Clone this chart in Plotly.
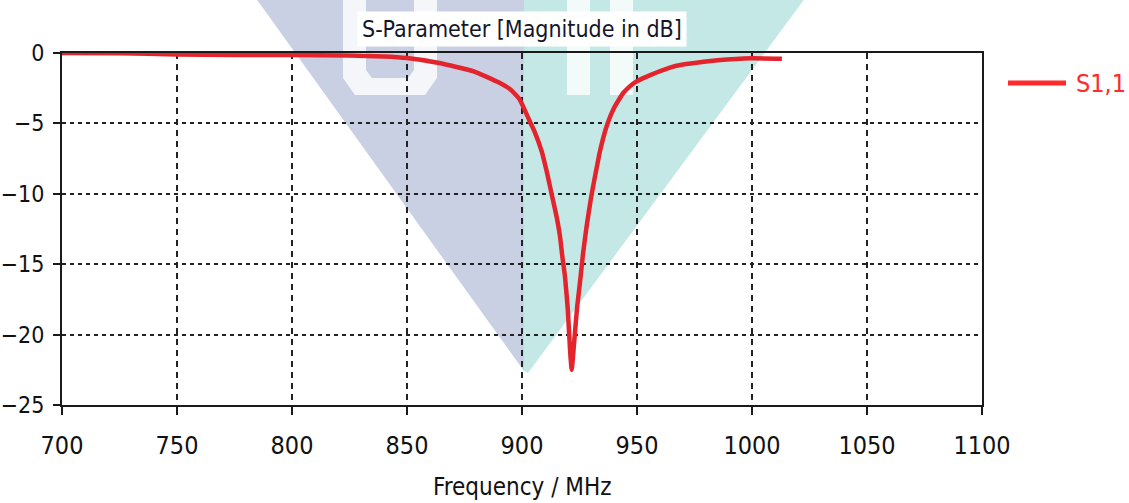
import plotly.graph_objects as go

# S11 reflection coefficient of the antenna (frequency in MHz, magnitude in dB)
freq_mhz = [700, 725, 750, 775, 800, 825, 840, 850, 864, 879, 890, 895, 899,
            903.5, 905.5, 908.6, 911, 913, 915, 916.5, 917.5, 918.7, 919.9,
            920.9, 921.6, 923, 924, 925.2, 926.5, 928.1, 930, 931.7, 934,
            936.8, 940, 944, 947, 950, 956, 964, 970, 979, 985, 993, 1000, 1013]
s11_db = [0.0, -0.02, -0.1, -0.15, -0.15, -0.18, -0.25, -0.36, -0.71, -1.3,
          -2.1, -2.6, -3.3, -4.9, -5.6, -7.0, -8.6, -10.1, -11.6, -13.0,
          -14.4, -15.9, -18.2, -21.1, -22.5, -19.9, -18.0, -16.3, -14.3,
          -12.3, -10.3, -8.8, -6.9, -5.2, -3.9, -2.84, -2.35, -2.0, -1.55,
          -1.05, -0.82, -0.62, -0.52, -0.42, -0.38, -0.4]
series_name = "S1,1"

x_ticks = [700, 750, 800, 850, 900, 950, 1000, 1050, 1100]
y_ticks = [0, -5, -10, -15, -20, -25]

title_text = "S-Parameter [Magnitude in dB]"
x_title = "Frequency / MHz"

FONT = "DejaVu Sans Condensed, DejaVu Sans, sans-serif"
RED = "#ff2a2a"
CURVE = "#e3242d"

# plot-area geometry in pixels
FIG_W, FIG_H = 1129, 503
L, R, T, B = 62, 982, 53, 405
W, H = R - L, B - T


def px(x):
    return (x - L) / W


def py(y):
    return (B - y) / H


def poly(points):
    return "M " + " L ".join(f"{px(x):.5f},{py(y):.5f}" for x, y in points) + " Z"


fig = go.Figure()
fig.add_trace(go.Scatter(
    x=freq_mhz, y=s11_db, mode="lines", name=series_name,
    line=dict(color=CURVE, width=4.5, shape="spline", smoothing=0.4),
    showlegend=False,
))

WHITE = "rgba(255,255,255,0.8)"
shapes = [
    # background emblem: two-tone inverted triangle
    dict(type="path", xref="paper", yref="paper", layer="below",
         path=poly([(255, -3), (524, -3), (524, 371)]),
         fillcolor="#c9d0e4", line=dict(width=0)),
    dict(type="path", xref="paper", yref="paper", layer="below",
         path=poly([(524, -3), (806, -3), (528, 373), (524, 371)]),
         fillcolor="#c4e8e6", line=dict(width=0)),
    # pale lettering inside the emblem
    dict(type="path", xref="paper", yref="paper", layer="below",
         path=poly([(343, -3), (366, -3), (366, 70), (372, 78), (408, 78),
                    (414, 70), (414, -3), (437, -3), (437, 78), (425, 95),
                    (355, 95), (343, 78)]),
         fillcolor=WHITE, line=dict(width=0)),
    dict(type="path", xref="paper", yref="paper", layer="below",
         path=poly([(567, -3), (590, -3), (590, 95), (567, 95)]),
         fillcolor=WHITE, line=dict(width=0)),
    dict(type="path", xref="paper", yref="paper", layer="below",
         path=poly([(610, -3), (633, -3), (633, 95), (610, 95)]),
         fillcolor=WHITE, line=dict(width=0)),
    # legend sample line
    dict(type="line", xref="paper", yref="paper",
         x0=px(1008), x1=px(1066), y0=py(83), y1=py(83),
         line=dict(color=RED, width=5)),
]

annotations = [
    dict(text=title_text, xref="paper", yref="paper", x=0.5, y=py(29),
         xanchor="center", yanchor="middle", showarrow=False,
         bgcolor="white", borderpad=4,
         font=dict(family=FONT, size=23, color="#15152a")),
    dict(text=x_title, xref="paper", yref="paper", x=0.5, y=py(487),
         xanchor="center", yanchor="middle", showarrow=False,
         font=dict(family=FONT, size=24, color="#111111")),
    dict(text=series_name, xref="paper", yref="paper", x=px(1074), y=py(83),
         xanchor="left", yanchor="middle", showarrow=False,
         font=dict(family=FONT, size=25, color=RED)),
]

axis_common = dict(
    showline=True, linecolor="#1a1a1a", linewidth=2, mirror=True,
    ticks="outside", tickcolor="#1a1a1a", tickwidth=2,
    showgrid=True, gridcolor="#222222", gridwidth=1.5,
    zeroline=False,
)

fig.update_xaxes(range=[700, 1100], tickvals=x_ticks, ticklen=8,
                 griddash="6px,5px", ticklabelstandoff=9,
                 tickfont=dict(family=FONT, size=25, color="#111111"),
                 **axis_common)
fig.update_yaxes(range=[-25, 0], tickvals=y_ticks, ticklen=7,
                 griddash="4px,4px", ticklabelstandoff=4,
                 tickfont=dict(family=FONT, size=23, color="#111111"),
                 **axis_common)

fig.update_layout(
    width=FIG_W, height=FIG_H,
    margin=dict(l=L, r=FIG_W - R, t=T, b=FIG_H - B, autoexpand=False),
    paper_bgcolor="white", plot_bgcolor="rgba(0,0,0,0)",
    shapes=shapes, annotations=annotations, showlegend=False,
    font=dict(family=FONT),
)

fig.write_html("out.html")
